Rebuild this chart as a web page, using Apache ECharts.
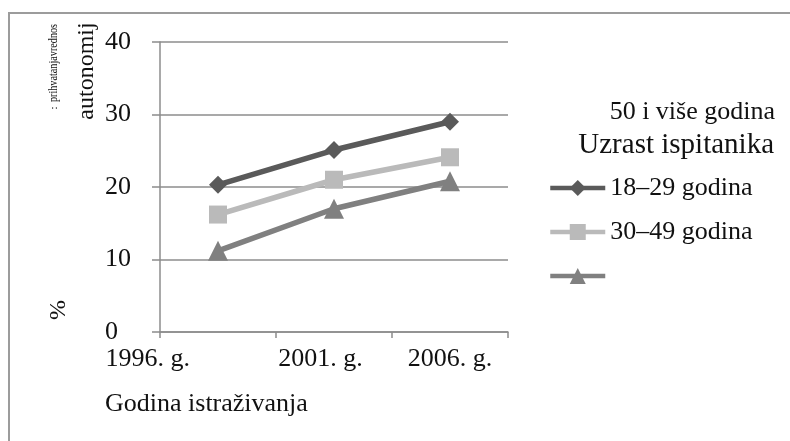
<!DOCTYPE html>
<html>
<head>
<meta charset="utf-8">
<script src="https://cdn.jsdelivr.net/npm/echarts@6/dist/echarts.min.js"></script>
<style>
  html, body { margin: 0; padding: 0; background: #fff; }
  #chart { width: 790px; height: 441px; }
</style>
</head>
<body>
<div id="chart"></div>
<script>
// podaci
var godine = ['1996. g.', '2001. g.', '2006. g.'];
var serije = ['18–29 godina', '30–49 godina', '50 i više godina'];
var mladi = [20.3, 25.1, 29];
var srednji = [16.2, 21, 24.1];
var stariji = [11.2, 17, 20.8];
var yTicks = [0, 10, 20, 30, 40];

var font = "'Liberation Serif', 'DejaVu Serif', serif";
var boje = ['#5a5a5a', '#bababa', '#808080'];
var simboli = ['diamond', 'rect', 'triangle'];

var chart = echarts.init(document.getElementById('chart'));

// pomeranje labela kao na originalu
var labelPad = [
  { align: 'right', padding: [0, 28, 0, 0] },
  { align: 'center', padding: [0, 27, 0, 0] },
  { align: 'center' }
];

var option = {
  animation: false,
  backgroundColor: '#fff',
  grid: {
    left: 160,
    right: 282,
    top: 42,
    bottom: 109
  },
  legend: {
    orient: 'vertical',
    left: 548,
    top: 175,
    padding: 0,
    itemWidth: 55,
    itemHeight: 20,
    itemGap: 18,
    data: serije,
    lineStyle: { width: 4.5 },
    formatter: function (name) {
      return name === '50 i više godina' ? ' ' : name;
    },
    textStyle: { fontFamily: font, fontSize: 26, color: '#111' }
  },
  xAxis: {
    type: 'category',
    boundaryGap: true,
    data: godine.map(function (g, i) {
      return { value: g, textStyle: labelPad[i] };
    }),
    axisLine: { show: true, lineStyle: { color: '#8c8c8c', width: 1.5 } },
    axisTick: { show: true, length: 6, lineStyle: { color: '#8c8c8c', width: 1.5 } },
    axisLabel: { fontFamily: font, fontSize: 26, color: '#111', margin: 14 },
    splitLine: { show: false }
  },
  yAxis: {
    type: 'value',
    min: yTicks[0],
    max: yTicks[yTicks.length - 1],
    interval: 10,
    axisLine: { show: true, lineStyle: { color: '#8c8c8c', width: 1.5 } },
    axisTick: { show: true, length: 8, lineStyle: { color: '#8c8c8c', width: 1.5 } },
    axisLabel: { fontFamily: font, fontSize: 26, color: '#111', margin: 55, align: 'left' },
    splitLine: { show: true, lineStyle: { color: '#8c8c8c', width: 1.5 } }
  },
  series: [mladi, srednji, stariji].map(function (d, i) {
    return {
      name: serije[i],
      type: 'line',
      data: d,
      symbol: simboli[i],
      symbolSize: i === 2 ? 20 : 18,
      lineStyle: { color: boje[i], width: 5.5 },
      itemStyle: { color: boje[i] }
    };
  }),
  graphic: [
    {
      type: 'rect',
      shape: { x: 9, y: 13, width: 800, height: 450 },
      style: { fill: null, stroke: '#9c9c9c', lineWidth: 2 },
      silent: true
    },
    {
      type: 'text', x: 775, y: 112,
      style: { text: '50 i više godina', font: '26px ' + font, fill: '#111', align: 'right', verticalAlign: 'middle' }
    },
    {
      type: 'text', x: 774, y: 145,
      style: { text: 'Uzrast ispitanika', font: '29px ' + font, fill: '#111', align: 'right', verticalAlign: 'middle' }
    },
    {
      type: 'text', x: 105, y: 404,
      style: { text: 'Godina istraživanja', font: '26px ' + font, fill: '#111', align: 'left', verticalAlign: 'middle' }
    },
    {
      type: 'text', x: 59, y: 310, rotation: Math.PI / 2,
      style: { text: '%', font: '24px ' + font, fill: '#111', align: 'center', verticalAlign: 'middle' }
    },
    {
      type: 'text', x: 87, y: 71, rotation: Math.PI / 2,
      style: { text: 'autonomij', font: '24px ' + font, fill: '#111', align: 'center', verticalAlign: 'middle' }
    },
    {
      type: 'text', x: 54, y: 63, rotation: Math.PI / 2, scaleX: 0.85,
      style: { text: 'prihvatanjavrednos', font: '12px ' + font, fill: '#111', align: 'center', verticalAlign: 'middle' }
    },
    {
      type: 'text', x: 54, y: 108, rotation: Math.PI / 2,
      style: { text: ':', font: '11px ' + font, fill: '#111', align: 'center', verticalAlign: 'middle' }
    }
  ]
};

chart.setOption(option);
</script>
</body>
</html>
